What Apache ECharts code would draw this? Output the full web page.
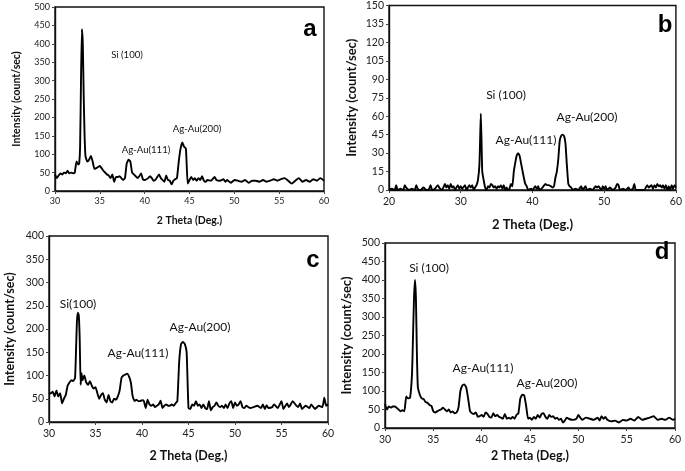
<!DOCTYPE html>
<html>
<head>
<meta charset="utf-8">
<script src="https://cdn.jsdelivr.net/npm/echarts@6/dist/echarts.min.js"></script>
<style>html,body{margin:0;padding:0;background:#fff}#c{width:685px;height:471px}</style>
</head>
<body>
<div id="c"></div>
<script>
// ---- data (2 theta in degrees, intensity in count/sec) ----
const panelA = [[30,45],[30.2,35],[30.4,42],[30.6,48],[30.8,45],[31,50],[31.2,48],[31.4,55],[31.6,48],[31.8,50],[32,48],[32.2,50],[32.4,80],[32.6,72],[32.7,75],[32.8,120],[32.9,300],[33,440],[33.1,400],[33.2,260],[33.3,150],[33.4,95],[33.6,80],[33.8,85],[34,95],[34.2,80],[34.4,60],[34.6,62],[34.8,65],[35,68],[35.2,62],[35.4,55],[35.6,50],[35.8,45],[36,42],[36.2,35],[36.4,45],[36.6,25],[36.8,38],[37,38],[37.2,40],[37.4,35],[37.6,30],[37.8,35],[38,75],[38.2,85],[38.4,80],[38.6,50],[38.8,45],[39,40],[39.2,35],[39.4,40],[39.6,48],[39.8,32],[40,30],[40.2,32],[40.4,35],[40.6,40],[40.8,35],[41,28],[41.2,30],[41.4,38],[41.6,45],[41.8,35],[42,30],[42.2,25],[42.4,42],[42.6,30],[42.8,28],[43,18],[43.2,28],[43.4,32],[43.6,35],[43.8,80],[44,115],[44.2,132],[44.4,120],[44.6,115],[44.8,20],[45,30],[45.2,38],[45.4,30],[45.6,35],[45.8,28],[46,35],[46.2,30],[46.4,40],[46.6,28],[46.8,25],[47,30],[47.4,28],[47.8,38],[48,30],[48.4,28],[48.8,32],[49,25],[49.2,30],[49.6,22],[50,30],[50.4,28],[50.8,25],[51.2,30],[51.6,22],[52,28],[52.4,28],[52.8,25],[53.2,30],[53.6,25],[54,28],[54.4,32],[54.8,28],[55.2,32],[55.6,35],[56,28],[56.4,20],[56.8,28],[57.2,35],[57.6,25],[58,30],[58.4,25],[58.8,32],[59.2,28],[59.6,35],[60,28]];

const panelB = [[20,0],[20.4,1],[20.8,0],[21,4],[21.2,0],[21.6,1],[22,0],[22.2,4],[22.4,2],[22.8,0],[23.2,1],[23.6,0],[23.8,4],[24,1],[24.4,0],[24.8,2],[25.2,0],[25.6,1],[25.8,4],[26,0],[26.4,1],[26.8,4],[27,2],[27.4,0],[27.8,5],[28,2],[28.2,4],[28.4,1],[28.6,5],[28.8,2],[29,3],[29.2,0],[29.6,4],[29.8,1],[30,3],[30.2,1],[30.6,4],[30.8,0],[31.2,4],[31.4,2],[31.6,4],[31.8,0],[32,2],[32.2,4],[32.4,8],[32.6,20],[32.7,40],[32.8,62],[32.9,40],[33,15],[33.2,8],[33.4,2],[33.6,0],[33.8,3],[34,2],[34.2,5],[34.4,4],[34.6,2],[34.8,3],[35,1],[35.2,3],[35.4,2],[35.6,4],[35.8,1],[36,4],[36.2,0],[36.4,2],[36.6,0],[36.8,1],[37,5],[37.2,3],[37.4,15],[37.6,22],[37.8,28],[38,30],[38.2,28],[38.4,22],[38.6,16],[38.8,10],[39,5],[39.2,3],[39.4,0],[39.8,1],[40,0],[40.4,3],[40.6,1],[40.8,3],[41,0],[41.4,2],[41.8,5],[42,4],[42.2,4],[42.6,3],[42.8,2],[43,3],[43.2,10],[43.4,15],[43.6,25],[43.8,40],[44,44],[44.2,45],[44.4,44],[44.6,38],[44.8,20],[45,5],[45.2,3],[45.4,2],[45.6,0],[46,1],[46.4,0],[46.8,3],[47,0],[47.4,3],[47.6,0],[48,1],[48.4,0],[48.8,3],[49,2],[49.2,3],[49.6,0],[49.8,3],[50,1],[50.2,3],[50.4,0],[50.8,2],[51.2,0],[51.6,2],[51.8,5],[52,4],[52.2,0],[52.6,1],[53,0],[53.4,2],[53.6,0],[54,1],[54.2,5],[54.4,0],[55,0],[55.6,0],[56,4],[56.2,2],[56.6,4],[56.8,1],[57,4],[57.2,2],[57.4,5],[57.6,3],[57.8,4],[58,2],[58.2,4],[58.4,1],[58.6,4],[58.8,0],[59,3],[59.2,0],[59.4,4],[59.6,1],[59.8,4],[60,2]];

const panelC = [[30,60],[30.2,62],[30.4,65],[30.6,55],[30.8,68],[31,55],[31.2,62],[31.4,40],[31.6,50],[31.8,58],[32,78],[32.2,85],[32.4,90],[32.6,88],[32.8,95],[32.9,150],[33,215],[33.1,235],[33.2,230],[33.3,180],[33.4,80],[33.5,105],[33.6,90],[33.8,100],[34,85],[34.2,80],[34.4,88],[34.6,78],[34.8,72],[35,75],[35.2,62],[35.4,50],[35.6,58],[35.8,62],[36,48],[36.2,42],[36.4,58],[36.6,45],[36.8,42],[37,50],[37.2,48],[37.4,55],[37.6,68],[37.8,95],[38,100],[38.2,102],[38.4,104],[38.6,98],[38.8,85],[39,55],[39.2,45],[39.4,48],[39.6,45],[39.8,45],[40,47],[40.2,45],[40.4,30],[40.6,48],[40.8,38],[41,35],[41.2,38],[41.4,32],[41.6,35],[41.8,38],[42,46],[42.2,30],[42.4,35],[42.6,38],[42.8,35],[43,35],[43.2,38],[43.4,35],[43.6,40],[43.8,45],[44,130],[44.2,168],[44.4,172],[44.6,168],[44.8,150],[45,30],[45.2,28],[45.4,38],[45.6,35],[45.8,45],[46,35],[46.2,38],[46.4,30],[46.6,38],[46.8,30],[47,28],[47.2,45],[47.4,25],[47.6,32],[47.8,35],[48,42],[48.2,35],[48.4,32],[48.6,35],[48.8,30],[49,38],[49.2,30],[49.4,40],[49.6,45],[49.8,30],[50,42],[50.2,35],[50.4,38],[50.6,45],[50.8,32],[51,30],[51.2,35],[51.6,30],[52,32],[52.4,35],[52.8,30],[53,38],[53.2,28],[53.4,36],[53.6,30],[54,32],[54.2,38],[54.6,30],[55,45],[55.2,28],[55.6,40],[55.8,32],[56,38],[56.2,45],[56.6,35],[56.8,32],[57,40],[57.2,28],[57.6,35],[58,30],[58.2,38],[58.6,28],[59,35],[59.4,32],[59.6,52],[59.8,35],[60,38]];

const panelD = [[30,65],[30.2,50],[30.4,58],[30.6,55],[30.8,58],[31,58],[31.2,55],[31.4,50],[31.6,45],[31.8,48],[32,45],[32.2,85],[32.4,80],[32.6,82],[32.8,150],[32.9,250],[33,350],[33.1,400],[33.2,350],[33.3,200],[33.4,110],[33.6,90],[33.8,80],[34,78],[34.2,70],[34.4,68],[34.6,62],[34.8,60],[35,45],[35.2,42],[35.4,45],[35.6,48],[35.8,50],[36,55],[36.2,50],[36.4,45],[36.6,50],[36.8,42],[37,45],[37.2,40],[37.4,42],[37.6,55],[37.8,100],[38,115],[38.2,118],[38.4,110],[38.6,80],[38.8,45],[39,40],[39.2,38],[39.4,42],[39.6,30],[39.8,32],[40,35],[40.2,30],[40.4,42],[40.6,38],[40.8,30],[41,28],[41.2,40],[41.4,32],[41.6,35],[41.8,30],[42,28],[42.2,25],[42.4,38],[42.6,25],[42.8,28],[43,25],[43.2,30],[43.4,25],[43.6,35],[43.8,40],[44,80],[44.2,90],[44.4,88],[44.6,60],[44.8,25],[45,28],[45.2,22],[45.4,30],[45.6,25],[45.8,35],[46,28],[46.2,38],[46.4,40],[46.6,30],[46.8,25],[47,35],[47.2,30],[47.4,32],[47.6,25],[47.8,28],[48,22],[48.2,25],[48.4,15],[48.6,20],[48.8,28],[49,25],[49.4,22],[49.8,25],[50,35],[50.2,28],[50.4,22],[50.8,28],[51.2,25],[51.6,22],[52,28],[52.2,20],[52.4,32],[52.6,25],[52.8,30],[53,22],[53.4,18],[53.8,20],[54.2,15],[54.6,22],[55,20],[55.4,25],[55.8,20],[56.2,30],[56.6,22],[57,25],[57.4,28],[57.8,32],[58.2,22],[58.6,25],[59,22],[59.4,28],[59.8,22],[60,25]];

const panelLetters = ['a','b','c','d'];
const xRanges = [[30,60,5],[20,60,10],[30,60,5],[30,60,5]];
const yRanges = [[0,500,50],[0,150,15],[0,400,50],[0,500,50]];
const peakLabels = [
  ['Si (100)','Ag-Au(111)','Ag-Au(200)'],
  ['Si (100)','Ag-Au(111)','Ag-Au(200)'],
  ['Si(100)','Ag-Au(111)','Ag-Au(200)'],
  ['Si (100)','Ag-Au(111)','Ag-Au(200)']
];
const xTitle = '2 Theta (Deg.)';
const yTitle = 'Intensity (count/sec)';

// ---- layout ----
const grids = [
  {left:55, top:7, width:269, height:184},
  {left:389, top:5, width:289, height:185},
  {left:49, top:236, width:279, height:186},
  {left:385, top:243, width:290, height:185}
];
const tickFont = [9, 10.5, 10.5, 10.5];
const yTitleFont = [10.5, 13, 12.5, 13];
const xTitleFont = [10.5, 13, 12.5, 12.5];
const xNameGap = [24, 28, 27, 21];
const yNameGap = [33, 31, 33, 32];
const FONT = 'Lato, "Open Sans", sans-serif';

const series = [panelA, panelB, panelC, panelD];

const option = {
  backgroundColor: '#fff',
  animation: false,
  grid: grids.map(g => Object.assign({show:true, borderColor:'#111', borderWidth:1.4, backgroundColor:'transparent'}, g)),
  xAxis: grids.map((g,i) => ({
    type:'value', gridIndex:i, min:xRanges[i][0], max:xRanges[i][1], interval:xRanges[i][2],
    name:xTitle, nameLocation:'middle', nameGap:xNameGap[i],
    nameTextStyle:{fontFamily:FONT, fontWeight:'bold', fontSize:xTitleFont[i], color:'#111'},
    axisLine:{show:true, onZero:false, lineStyle:{color:'#111', width:1.4}},
    axisTick:{show:true, length:3, lineStyle:{color:'#444'}},
    axisLabel:{fontFamily:FONT, fontSize:tickFont[i], color:'#222', margin:6},
    splitLine:{show:false}
  })),
  yAxis: grids.map((g,i) => ({
    type:'value', gridIndex:i, min:yRanges[i][0], max:yRanges[i][1], interval:yRanges[i][2],
    name:yTitle, nameLocation:'middle', nameGap:yNameGap[i], nameRotate:90,
    nameTextStyle:{fontFamily:FONT, fontWeight:'bold', fontSize:yTitleFont[i], color:'#111'},
    axisLine:{show:true, lineStyle:{color:'#111', width:1.4}},
    axisTick:{show:true, length:3, lineStyle:{color:'#444'}},
    axisLabel:{fontFamily:FONT, fontSize:tickFont[i], color:'#222', margin:5},
    splitLine:{show:false}
  })),
  series: series.map((d,i) => ({
    type:'line', xAxisIndex:i, yAxisIndex:i, data:d, showSymbol:false, symbol:'none',
    lineStyle:{color:'#000', width:1.9, join:'round'}, smooth:0.15
  })),
  graphic: []
};

// peak annotation positions (pixels)
const annPos = [
  [[127,55],[146,150],[197,129]],
  [[506,95],[526,140],[587,117]],
  [[78,304],[138,353],[200,327]],
  [[429,268],[483,368],[547,383]]
];
const annFont = [9.6, 12, 12, 12];
const letterPos = [[310,29],[665,25],[313,260],[662,252]];

annPos.forEach((arr,i) => {
  arr.forEach((p,k) => {
    option.graphic.push({type:'text', x:p[0], y:p[1], style:{text:peakLabels[i][k], fontFamily:FONT, fontSize:annFont[i], fill:'#111', align:'center', verticalAlign:'middle'}});
  });
  option.graphic.push({type:'text', x:letterPos[i][0], y:letterPos[i][1], style:{text:panelLetters[i], fontFamily:'"Liberation Sans", Arial, sans-serif', fontWeight:'bold', fontSize:24, fill:'#000', align:'center', verticalAlign:'middle'}});
});

const chart = echarts.init(document.getElementById('c'), null, {renderer:'canvas'});
chart.setOption(option);
</script>
</body>
</html>
